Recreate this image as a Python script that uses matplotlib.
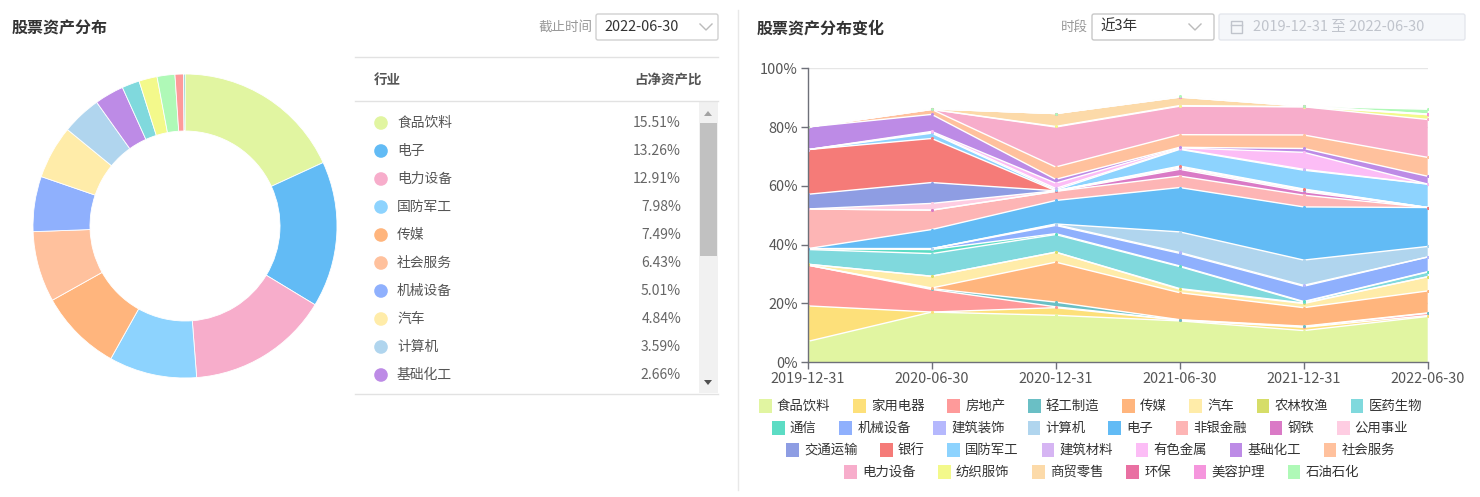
import matplotlib
matplotlib.use("Agg")
import matplotlib.pyplot as plt
from matplotlib.patches import Rectangle, Circle, FancyBboxPatch, Polygon
import numpy as np

plt.rcParams['font.family'] = ['Noto Sans CJK SC', 'DejaVu Sans']

W, H = 1480, 497

# ---- donut / table data (2022-06-30) ----
pie_names = ['食品饮料', '电子', '电力设备', '国防军工', '传媒', '社会服务', '机械设备',
             '汽车', '计算机', '基础化工', '医药生物', '纺织服饰', '石油石化', '房地产', '轻工制造']
pie_values = [15.51, 13.26, 12.91, 7.98, 7.49, 6.43, 5.01, 4.84, 3.59, 2.66,
              1.60, 1.65, 1.62, 0.76, 0.14]
table_rows = 10

# ---- stacked area data ----
dates = ['2019-12-31', '2020-06-30', '2020-12-31', '2021-06-30', '2021-12-31', '2022-06-30']
industries = ['食品饮料', '家用电器', '房地产', '轻工制造', '传媒', '汽车', '农林牧渔', '医药生物',
              '通信', '机械设备', '建筑装饰', '计算机', '电子', '非银金融', '钢铁', '公用事业',
              '交通运输', '银行', '国防军工', '建筑材料', '有色金属', '基础化工', '社会服务',
              '电力设备', '纺织服饰', '商贸零售', '环保', '美容护理', '石油石化']
colors = ['#e1f5a1', '#fde07a', '#fe9a9a', '#6abfc5', '#ffb57d', '#ffeca9', '#d6dd68', '#80d9dd',
          '#5cdcc4', '#8fb0fd', '#b5b8fd', '#b0d5ee', '#62bbf5', '#fdb5b5', '#da7ac6', '#fecde2',
          '#8e9de3', '#f57b78', '#8dd3fe', '#d6b5f3', '#fcbdf6', '#bd8be6', '#ffc19d',
          '#f7adcb', '#f3f98b', '#fcdaa9', '#e970a2', '#f596dd', '#aff9b7']
share = {
    '食品饮料': [7.0, 17.0, 15.9, 14.0, 10.7, 15.51],
    '家用电器': [12.1, 0.0, 2.6, 0.2, 1.1, 0.3],
    '房地产':   [13.9, 7.7, 0.3, 0.1, 0.2, 0.76],
    '轻工制造': [0.0, 0.3, 1.6, 0.1, 0.2, 0.14],
    '传媒':     [0.0, 0.2, 13.6, 9.2, 6.3, 7.49],
    '汽车':     [0.3, 4.0, 3.4, 1.2, 1.4, 4.84],
    '农林牧渔': [0.0, 0.0, 0.0, 0.2, 0.2, 0.0],
    '医药生物': [5.0, 7.7, 6.0, 7.5, 0.3, 1.60],
    '通信':     [0.3, 1.4, 0.3, 0.2, 0.2, 0.1],
    '机械设备': [0.0, 0.3, 2.8, 4.3, 5.2, 5.01],
    '建筑装饰': [0.0, 0.0, 0.3, 0.3, 0.3, 0.0],
    '计算机':   [0.0, 0.0, 0.2, 7.0, 8.6, 3.59],
    '电子':     [0.0, 6.5, 8.0, 15.1, 18.1, 13.26],
    '非银金融': [13.5, 6.6, 3.1, 3.9, 4.0, 0.0],
    '钢铁':     [0.0, 0.0, 0.0, 2.3, 1.2, 0.0],
    '公用事业': [0.0, 2.3, 0.2, 0.5, 0.5, 0.0],
    '交通运输': [5.0, 7.1, 0.0, 0.3, 0.2, 0.0],
    '银行':     [15.2, 15.0, 0.0, 0.3, 0.2, 0.0],
    '国防军工': [0.0, 1.8, 0.3, 5.7, 6.4, 7.98],
    '建筑材料': [0.0, 0.3, 0.5, 0.2, 0.3, 0.0],
    '有色金属': [0.0, 0.3, 1.8, 0.3, 5.8, 0.0],
    '基础化工': [7.7, 5.8, 1.3, 0.2, 1.3, 2.66],
    '社会服务': [0.0, 1.7, 4.2, 4.3, 4.6, 6.43],
    '电力设备': [0.0, 0.0, 13.6, 9.7, 9.6, 12.91],
    '纺织服饰': [0.0, 0.0, 0.2, 0.2, 0.0, 1.65],
    '商贸零售': [0.0, 0.2, 4.4, 2.9, 0.2, 0.0],
    '环保':     [0.0, 0.0, 0.0, 0.0, 0.0, 0.2],
    '美容护理': [0.0, 0.0, 0.0, 0.0, 0.0, 0.0],
    '石油石化': [0.0, 0.0, 0.0, 0.3, 0.0, 1.62],
}
legend_rows = [8, 8, 7, 6]
legend_row_x = [759, 772, 786, 844]
legend_row_y = [406, 428, 450, 472]

color_of = dict(zip(industries, colors))


def px(n):
    # pixel size -> points
    return n * 0.72


def box(x0, y0, x1, y1):
    return [x0 / W, 1 - y1 / H, (x1 - x0) / W, (y1 - y0) / H]


fig = plt.figure(figsize=(W / 100, H / 100), dpi=100)

# UI layer in pixel coordinates
ui = fig.add_axes([0, 0, 1, 1])
ui.set_xlim(0, W)
ui.set_ylim(H, 0)
ui.axis('off')

# --- left header ---
ui.text(12, 28, '股票资产分布', fontsize=px(16), fontweight='bold', color='#333333', va='center')
ui.text(592, 27, '截止时间', fontsize=px(13.5), color='#999999', va='center', ha='right')
ui.add_patch(FancyBboxPatch((596, 14), 122, 26, boxstyle='round,pad=0,rounding_size=2',
                            fc='white', ec='#d0d0d0', lw=1))
ui.text(604, 27, '2022-06-30', fontsize=px(14.5), color='#333333', va='center')
ui.plot([700, 706, 712], [24, 30, 24], color='#bbbbbb', lw=1)

# --- table ---
for yy in [57, 101, 394]:
    ui.plot([355, 718], [yy, yy], color='#e2e2e2', lw=1)
ui.text(374, 80, '行业', fontsize=px(13.5), fontweight='bold', color='#555555', va='center')
ui.text(702, 80, '占净资产比', fontsize=px(13.5), fontweight='bold', color='#555555', va='center', ha='right')
for i in range(table_rows):
    yy = 123 + i * 28.0
    ui.add_patch(Circle((381, yy), 6.8, color=color_of[pie_names[i]], lw=0))
    ui.text(397, yy, pie_names[i], fontsize=px(13.8), color='#555555', va='center')
    ui.text(681, yy, f'{pie_values[i]:.2f}%', fontsize=px(14), color='#666666', va='center', ha='right')
# scrollbar
ui.add_patch(Rectangle((699, 102), 19, 291, fc='#f1f1f1', ec='none'))
ui.add_patch(Rectangle((700, 123), 17, 133, fc='#c1c1c1', ec='none'))
ui.add_patch(Polygon([(704, 116), (712, 116), (708, 111)], closed=True, fc='#a3a3a3', ec='none'))
ui.add_patch(Polygon([(704, 380), (712, 380), (708, 385)], closed=True, fc='#505050', ec='none'))

# divider
ui.plot([738, 738], [10, 490], color='#e8e8e8', lw=1)

# --- right header ---
ui.text(757, 28, '股票资产分布变化', fontsize=px(16), fontweight='bold', color='#333333', va='center')
ui.text(1088, 27, '时段', fontsize=px(13.5), color='#999999', va='center', ha='right')
ui.add_patch(FancyBboxPatch((1092, 14), 122, 26, boxstyle='round,pad=0,rounding_size=2',
                            fc='white', ec='#c8c8c8', lw=1))
ui.text(1100, 27, '近3年', fontsize=px(14.5), color='#333333', va='center')
ui.plot([1189, 1195, 1201], [24, 30, 24], color='#bbbbbb', lw=1)
ui.add_patch(FancyBboxPatch((1219, 14), 246, 26, boxstyle='round,pad=0,rounding_size=2',
                            fc='#f5f7fa', ec='#e4e7ed', lw=1))
ui.add_patch(Rectangle((1231, 21), 11, 12, fc='none', ec='#c0c4cc', lw=1))
ui.plot([1231, 1242], [24.5, 24.5], color='#c0c4cc', lw=1)
ui.text(1253, 27, '2019-12-31 至 2022-06-30', fontsize=px(14.6), color='#c0c4cc', va='center')

# --- legend ---
k = 0
for r, n_items in enumerate(legend_rows):
    x = legend_row_x[r]
    yy = legend_row_y[r]
    for name in industries[k:k + n_items]:
        ui.add_patch(Rectangle((x, yy - 7), 12.7, 14, fc=color_of[name], ec='none'))
        ui.text(x + 17.9, yy, name, fontsize=px(13.4), color='#333333', va='center')
        x += 17.9 + 13.4 * len(name) + 22.6
    k += n_items

# --- donut ---
ax_pie = fig.add_axes(box(33, 74, 337, 378))
ax_pie.pie(pie_values, colors=[color_of[n] for n in pie_names], startangle=90, counterclock=False,
           radius=1, wedgeprops=dict(width=0.375, edgecolor='white', linewidth=0.6))
ax_pie.set_xlim(-1, 1)
ax_pie.set_ylim(-1, 1)
ax_pie.set_aspect('equal')
ax_pie.axis('off')

# --- stacked area ---
ax = fig.add_axes(box(807.7, 68.3, 1427.7, 362))
ax.patch.set_visible(False)
x = np.arange(len(dates))
vals = np.array([share[n] for n in industries])
ax.stackplot(x, vals, colors=colors, linewidth=0, zorder=2)
tops = np.cumsum(vals, axis=0)
for i, name in enumerate(industries):
    ax.plot(x, tops[i], color='white', lw=1, zorder=3)
for i, name in enumerate(industries):
    ax.plot(x, tops[i], ls='none', marker='o', ms=2.2, color=colors[i], mew=0, zorder=4)

ax.set_xlim(0, len(dates) - 1)
ax.set_ylim(0, 100)
ax.set_yticks([0, 20, 40, 60, 80, 100])
ax.set_yticklabels([f'{v}%' for v in [0, 20, 40, 60, 80, 100]])
ax.set_xticks(x)
ax.set_xticklabels(dates)
ax.grid(axis='y', color='#e6e6e6', lw=1, zorder=0)
ax.set_axisbelow(True)
for s in ['top', 'right']:
    ax.spines[s].set_visible(False)
for s in ['left', 'bottom']:
    ax.spines[s].set_color('#6e7079')
    ax.spines[s].set_linewidth(1)
    ax.spines[s].set_zorder(5)
ax.tick_params(axis='both', length=5, width=1, color='#6e7079', labelcolor='#555555',
               labelsize=px(14.5), pad=2)
ax.tick_params(axis='x', pad=2)

fig.savefig('out.png', dpi=100, facecolor='white')
